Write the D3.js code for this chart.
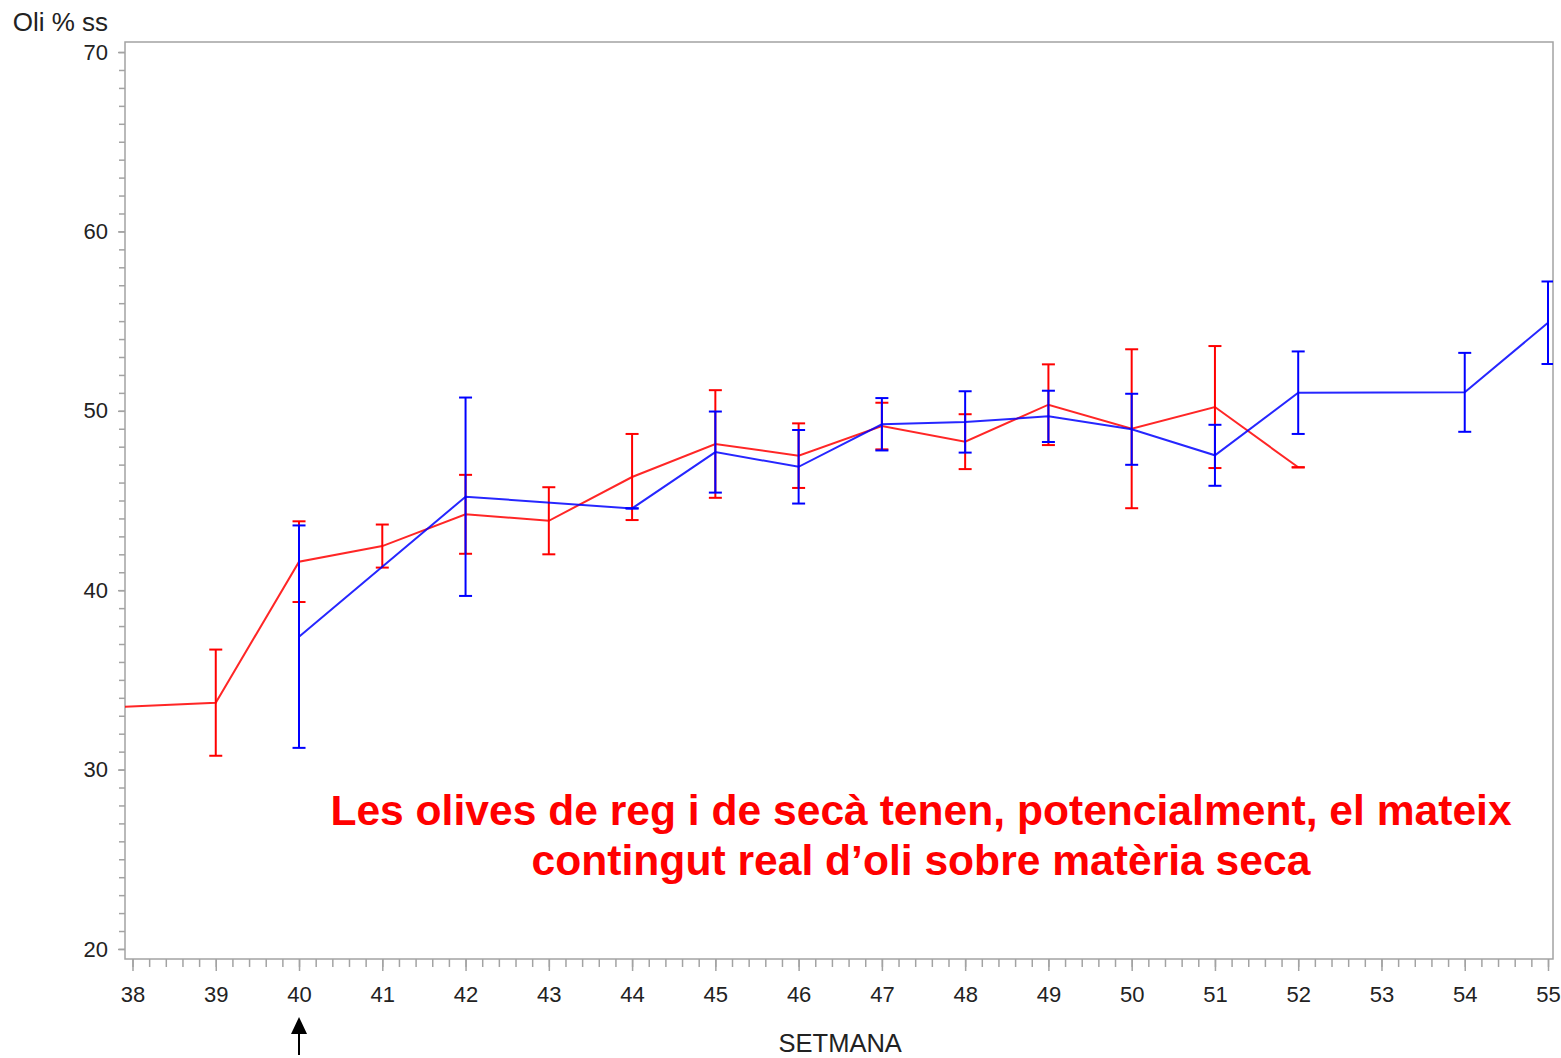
<!DOCTYPE html>
<html>
<head>
<meta charset="utf-8">
<script src="https://cdn.jsdelivr.net/npm/d3@7"></script>
<style>
  body { margin: 0; background: #fff; }
  svg { display: block; font-family: "Liberation Sans", Arial, sans-serif; }
  .axisGrey path, .axisGrey line { stroke: #a3a3a3; stroke-width: 1.5px; }
  .axisGrey text { fill: #222; font-size: 22px; }
</style>
</head>
<body>
<div id="chart"></div>
<script>
// weeks and values (Oli % ss), red = first series, blue = second series
var redWeeks = [37, 39, 40, 41, 42, 43, 44, 45, 46, 47, 48, 49, 50, 51, 52];
var redMean  = [33.3, 33.73, 41.59, 42.46, 44.23, 43.87, 46.31, 48.15, 47.5, 49.15, 48.28, 50.34, 49.0, 50.21, 46.85];
var redErr   = [0, 2.96, 2.25, 1.2, 2.2, 1.87, 2.4, 3.0, 1.8, 1.3, 1.53, 2.25, 4.43, 3.4, 0];

var blueWeeks = [40, 42, 44, 45, 46, 47, 48, 49, 50, 51, 52, 54, 55];
var blueMean  = [37.41, 45.21, 44.56, 47.7, 46.88, 49.25, 49.38, 49.69, 48.97, 47.52, 51.01, 51.03, 54.91];
var blueErr   = [6.2, 5.53, 0, 2.26, 2.05, 1.46, 1.71, 1.43, 1.98, 1.7, 2.3, 2.2, 2.3];

var xTicks = d3.range(38, 56);
var yTicks = [20, 30, 40, 50, 60, 70];

var yTitle = "Oli % ss";
var xTitle = "SETMANA";
var note = ["Les olives de reg i de secà tenen, potencialment, el mateix",
            "contingut real d\u2019oli sobre matèria seca"];

// set the dimensions of the frame
var W = 1561, H = 1058;
var plotL = 125, plotR = 1553, plotT = 42, plotB = 959;

var x = d3.scaleLinear().domain([37.91, 55.06]).range([plotL, plotR]);
var y = d3.scaleLinear().domain([19.44, 70.56]).range([plotB, plotT]);

var svg = d3.select("#chart").append("svg")
    .attr("width", W)
    .attr("height", H);

svg.append("clipPath").attr("id", "plotclip")
  .append("rect")
    .attr("x", plotL).attr("y", plotT)
    .attr("width", plotR - plotL).attr("height", plotB - plotT);

// frame
svg.append("rect")
    .attr("x", plotL).attr("y", plotT)
    .attr("width", plotR - plotL).attr("height", plotB - plotT)
    .style("fill", "none")
    .style("stroke", "#a3a3a3")
    .style("stroke-width", "1.5px");

// minor ticks
svg.append("g")
    .attr("class", "axisGrey")
    .attr("transform", "translate(" + plotL + ",0)")
    .call(d3.axisLeft(y).tickValues(d3.range(20, 71, 1)).tickSize(6).tickFormat(""))
    .select(".domain").remove();

svg.append("g")
    .attr("class", "axisGrey")
    .attr("transform", "translate(0," + plotB + ")")
    .call(d3.axisBottom(x).tickValues(d3.range(38, 55.01, 0.2)).tickSize(8).tickFormat(""))
    .select(".domain").remove();

// major ticks
svg.append("g")
    .attr("class", "axisGrey")
    .attr("transform", "translate(" + plotL + ",0)")
    .call(d3.axisLeft(y).tickValues(yTicks).tickSize(7).tickPadding(10).tickFormat(d3.format("d")))
    .select(".domain").remove();

svg.append("g")
    .attr("class", "axisGrey")
    .attr("transform", "translate(0," + plotB + ")")
    .call(d3.axisBottom(x).tickValues(xTicks).tickSize(12).tickPadding(15).tickFormat(d3.format("d")))
    .select(".domain").remove();

// axis titles
svg.append("text")
    .attr("x", 108).attr("y", 31)
    .attr("text-anchor", "end")
    .style("font-size", "26px")
    .style("fill", "#222")
    .text(yTitle);

svg.append("text")
    .attr("x", (x(38) + x(55)) / 2).attr("y", 1052)
    .attr("text-anchor", "middle")
    .style("font-size", "25.5px")
    .style("fill", "#222")
    .text(xTitle);

// series
var plot = svg.append("g").attr("clip-path", "url(#plotclip)");

function drawSeries(weeks, mean, err, colour) {
  var data = weeks.map(function(w, i) { return {week: w, mean: mean[i], err: err[i]}; });

  var line = d3.line()
      .x(function(d) { return x(d.week); })
      .y(function(d) { return y(d.mean); });

  plot.append("path")
      .datum(data)
      .style("fill", "none")
      .style("stroke", colour)
      .style("stroke-width", "2px")
      .style("stroke-opacity", 0.85)
      .attr("d", line);

  var bars = plot.selectAll(null)
      .data(data)
    .enter().append("g")
      .style("stroke", colour)
      .style("stroke-width", "2px");

  bars.append("line")
      .attr("x1", function(d) { return x(d.week); })
      .attr("x2", function(d) { return x(d.week); })
      .attr("y1", function(d) { return y(d.mean - d.err); })
      .attr("y2", function(d) { return y(d.mean + d.err); });

  [-1, 1].forEach(function(s) {
    bars.append("line")
        .attr("x1", function(d) { return x(d.week) - 6.5; })
        .attr("x2", function(d) { return x(d.week) + 6.5; })
        .attr("y1", function(d) { return y(d.mean + s * d.err); })
        .attr("y2", function(d) { return y(d.mean + s * d.err); });
  });
}

drawSeries(redWeeks, redMean, redErr, "#ff0000");
drawSeries(blueWeeks, blueMean, blueErr, "#0000ff");

// annotation
svg.append("text")
    .attr("x", 921).attr("y", 825)
    .attr("text-anchor", "middle")
    .style("font-size", "42.6px")
    .style("font-weight", "bold")
    .style("fill", "#ff0000")
  .selectAll("tspan")
    .data(note)
  .enter().append("tspan")
    .attr("x", 921)
    .attr("dy", function(d, i) { return i ? 50 : 0; })
    .text(function(d) { return d; });

// arrow under week 40
var ax = x(40);
svg.append("line")
    .attr("x1", ax).attr("x2", ax)
    .attr("y1", 1030).attr("y2", 1055)
    .style("stroke", "#000")
    .style("stroke-width", "2px");
svg.append("path")
    .attr("d", "M" + ax + ",1017 L" + (ax - 8) + ",1034 L" + (ax + 8) + ",1034 Z")
    .style("fill", "#000");
</script>
</body>
</html>
